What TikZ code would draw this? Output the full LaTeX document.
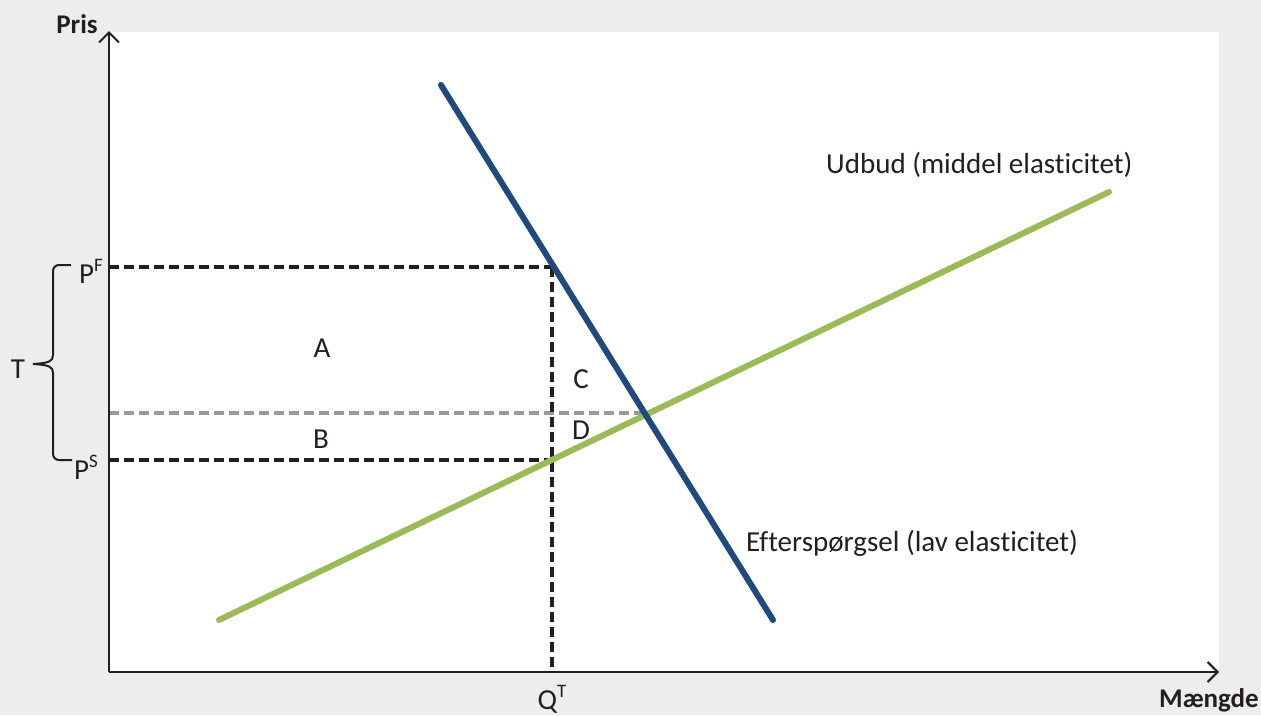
\documentclass[tikz,border=0pt]{standalone}
\usepackage{fontspec}
\setmainfont{Carlito}[RawFeature={-liga;-dlig;-clig}]
\usetikzlibrary{arrows.meta}
\definecolor{bg}{HTML}{EDEDED}
\definecolor{dblue}{HTML}{1F4A7E}
\definecolor{lgreen}{HTML}{9BBB59}
\definecolor{dgray}{HTML}{999999}
\definecolor{ink}{HTML}{231F20}
\begin{document}
\begin{tikzpicture}[x=1pt,y=-1pt,
  lbl/.style={font=\fontsize{29}{34}\selectfont, text=ink, inner sep=0pt},
  axlbl/.style={font=\fontsize{27}{32}\selectfont\bfseries, text=ink, inner sep=0pt},
  axis/.style={draw=ink, line width=2pt, -{Straight Barb[length=10pt,width=20pt,line width=2pt]}},
  guide/.style={draw=ink, line width=3.3pt, dash pattern=on 10pt off 5pt},
  guidegray/.style={draw=dgray, line width=3.3pt, dash pattern=on 10pt off 5pt},
  curve/.style={line width=6pt, line cap=round}]
\useasboundingbox (0,0) rectangle (1261,715);
\fill[bg] (0,0) rectangle (1261,715);
\fill[white] (109,32) rectangle (1219,672);
% points
\coordinate (O) at (109,672);
\coordinate (Ytop) at (109,31);
\coordinate (Xend) at (1219,672);
\coordinate (pf) at (109,267);
\coordinate (ps) at (109,460);
\coordinate (pe) at (109,413);
\coordinate (cf) at (552,267);
\coordinate (cs) at (552,460);
\coordinate (ce) at (647,413);
\coordinate (qt) at (552,672);
\coordinate (d1) at (441,85);
\coordinate (d2) at (773,620);
\coordinate (s1) at (219,620);
\coordinate (s2) at (1109,192);
% guides
\draw[guide] (pf) -- (cf);
\draw[guide] (ps) -- (cs);
\draw[guidegray] (pe) -- (ce);
\draw[guide] (cf) -- (qt);
% axes
\draw[axis] (O) -- (Ytop);
\draw[axis] (O) -- (Xend);
% curves
\draw[curve, draw=lgreen] (s1) -- (s2);
\draw[curve, draw=dblue] (d1) -- (d2);
% brace
\draw[ink, line width=2pt] (71,265) -- (59,265) to[out=180,in=90] (53,271) -- (53,355)
  .. controls (53,361) and (50,363) .. (33,364);
\draw[ink, line width=2pt] (33,364) .. controls (50,365) and (53,367) .. (53,373) -- (53,454)
  to[out=-90,in=180] (59,460) -- (72,460);
% labels
\node[axlbl] (pris) at (77,24) {Pris};
\node[axlbl] (mg) at (1209,700) {Mængde};
\node[lbl, anchor=west] (PF) at (79,271) {P\raisebox{0.42em}{\fontsize{19}{22}\selectfont F}};
\node[lbl, anchor=west] (PS) at (74,467) {P\raisebox{0.42em}{\fontsize{19}{22}\selectfont S}};
\node[lbl] (T) at (18,369) {T};
\node[lbl] (QT) at (552,699) {Q\raisebox{0.42em}{\fontsize{19}{22}\selectfont T}};
\node[lbl] (A) at (322,348) {A};
\node[lbl] (B) at (321,439) {B};
\node[lbl] (C) at (581,379) {C};
\node[lbl] (D) at (581,430) {D};
\node[lbl, anchor=west] (ud) at (826,165) {Udbud (middel elasticitet)};
\node[lbl, anchor=west] (ef) at (746,543) {Efterspørgsel (lav elasticitet)};
\end{tikzpicture}
\end{document}
